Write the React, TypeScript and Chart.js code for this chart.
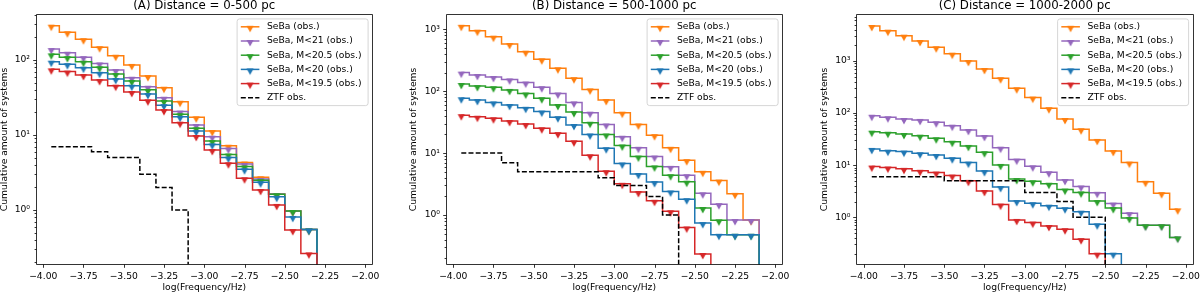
import React, { useEffect, useRef } from 'react';
import { Chart, registerables } from 'chart.js';

Chart.register(...registerables);

// ---------- data ----------
const binCenters = [-3.95, -3.85, -3.75, -3.65, -3.55, -3.45, -3.35, -3.25, -3.15, -3.05, -2.95, -2.85, -2.75, -2.65, -2.55, -2.45, -2.35, -2.25, -2.15, -2.05];
const xTickValues = [-4.0, -3.75, -3.5, -3.25, -3.0, -2.75, -2.5, -2.25, -2.0];

const seriesLabels = ['SeBa (obs.)', 'SeBa, M<21 (obs.)', 'SeBa, M<20.5 (obs.)', 'SeBa, M<20 (obs.)', 'SeBa, M<19.5 (obs.)', 'ZTF obs.'];
const seriesColors = ['#ff7f0e', '#9467bd', '#2ca02c', '#1f77b4', '#d62728', '#000000'];
const panelTitles = ['(A) Distance = 0-500 pc', '(B) Distance = 500-1000 pc', '(C) Distance = 1000-2000 pc'];
const xAxisTitle = 'log(Frequency/Hz)';
const yAxisTitle = 'Cumulative amount of systems';

// Panel A: 0-500 pc
const sebaA = [287, 234, 189, 148, 114, 86, 61, 42.7, 27.8, 17.2, 11.3, 7.2, 4.3, 2.73, 1.63, 0.97, 0.55, 0, 0, 0];
const m21A = [140, 125, 109, 90, 73.5, 58, 44, 31.4, 20.5, 13.6, 9.5, 6.6, 4.1, 2.6, 1.63, 0.97, 0.55, 0, 0, 0];
const m205A = [119, 109, 95, 80, 65, 52.5, 40, 28.5, 18.9, 12.3, 8.3, 5.5, 3.8, 2.5, 1.62, 0.97, 0.55, 0, 0, 0];
const m20A = [95, 88, 79, 67.5, 55.8, 45.5, 35.2, 25, 17.5, 11.3, 7.5, 5.0, 3.5, 2.34, 1.5, 0.81, 0.55, 0, 0, 0];
const m195A = [75, 70, 63, 54, 45.5, 37.5, 29, 21.5, 14.6, 9.7, 6.3, 4.2, 2.65, 1.85, 1.17, 0.54, 0.264, 0, 0, 0];
const ztfA = [7, 7, 7, 6, 5, 5, 3, 2, 1, 0, 0, 0, 0, 0, 0, 0, 0, 0, 0, 0];

// Panel B: 500-1000 pc
const sebaB = [1140, 950, 760, 580, 435, 327, 234, 162, 107, 72, 45, 29, 19.5, 12.2, 7.7, 5.0, 3.6, 2.2, 0.83, 0];
const m21B = [200, 183, 170, 155, 138, 116, 92, 66, 45, 29, 18.4, 12.2, 8.8, 6.0, 4.4, 2.24, 1.5, 0.83, 0.83, 0];
const m205B = [131, 121, 116, 105, 92, 77, 60, 46, 31, 20, 13.3, 8.8, 6.1, 4.4, 3.45, 1.3, 0.82, 0.48, 0.48, 0];
const m20B = [77, 72, 66, 60, 54, 47, 38, 28.5, 20, 12, 6.8, 4.6, 3.4, 2.4, 1.8, 0.74, 0.48, 0.48, 0.48, 0];
const m195B = [41, 38.7, 36.5, 33, 29.5, 25.2, 21, 15.5, 9.2, 5.1, 3.2, 2.35, 1.7, 1.15, 0.63, 0.235, 0, 0, 0, 0];
const ztfB = [10, 10, 10, 7, 5, 5, 5, 5, 5, 4, 3, 3, 2, 1, 0, 0, 0, 0, 0, 0];

// Panel C: 1000-2000 pc
const sebaC = [4700, 3820, 3060, 2420, 1830, 1380, 1000, 702, 466, 299, 198, 124, 77, 48.8, 30.5, 18.7, 11.2, 4.8, 2.9, 1.42];
const m21C = [89, 83, 77, 74, 66.6, 57.3, 47.4, 36.3, 21.7, 12.8, 9.5, 7.3, 5.2, 3.9, 2.95, 1.83, 1.2, 0.7, 0.7, 0.41];
const m205C = [44, 42, 39.7, 36.8, 32.8, 28.2, 23.4, 17.7, 10.1, 5.4, 4.9, 4.4, 3.4, 3.0, 2.05, 1.5, 0.97, 0.7, 0.7, 0.41];
const m20C = [20.5, 19, 18.2, 16.9, 15.7, 13.6, 11.2, 7.7, 3.8, 2.05, 1.86, 1.67, 1.49, 1.28, 0.73, 0.2, 0, 0, 0, 0];
const m195C = [9.4, 9.0, 8.5, 7.8, 7.2, 6.3, 5.0, 3.2, 1.75, 0.89, 0.79, 0.68, 0.59, 0.38, 0.2, 0, 0, 0, 0, 0];
const ztfC = [6, 6, 6, 6, 6, 5, 5, 5, 5, 5, 3, 3, 2, 1, 1, 0, 0, 0, 0, 0];

// ---------- layout ----------
const FONT = 'DejaVu Sans';
const TICK_SIZE = 9.2;
const TITLE_SIZE = 11.8;
const H = 294;
const AXES_TOP = 14.5;
const AXES_BOTTOM = 264.3;
const X_MIN = -4.045;
const X_MAX = -1.955;
const LINE_W = 1.5;

const panels = [
  { title: panelTitles[0], series: [sebaA, m21A, m205A, m20A, m195A, ztfA], left: 0, width: 400, axesLeft: 36, padRight: 27.5, yMin: 0.189, yMax: 404, yTitlePad: 0 },
  { title: panelTitles[1], series: [sebaB, m21B, m205B, m20B, m195B, ztfB], left: 400, width: 410, axesLeft: 46, padRight: 27.5, yMin: 0.16, yMax: 1734, yTitlePad: 8.9 },
  { title: panelTitles[2], series: [sebaC, m21C, m205C, m20C, m195C, ztfC], left: 810, width: 390, axesLeft: 46.5, padRight: 7, yMin: 0.125, yMax: 7800, yTitlePad: 9.6 },
];

const SUP: Record<string, string> = { '-1': '\u207B\u00B9', '0': '\u2070', '1': '\u00B9', '2': '\u00B2', '3': '\u00B3', '4': '\u2074' };

const markerCache: Record<string, HTMLCanvasElement> = {};
function markerFor(color: string): HTMLCanvasElement {
  if (markerCache[color]) return markerCache[color];
  const c = document.createElement('canvas');
  c.width = 10;
  c.height = 14;
  const g = c.getContext('2d')!;
  g.fillStyle = color;
  g.beginPath();
  g.moveTo(1.4, 6.1);
  g.lineTo(8.6, 6.1);
  g.lineTo(5, 12.4);
  g.closePath();
  g.fill();
  markerCache[color] = c;
  return c;
}

const axesDecor = {
  id: 'axesDecor',
  afterDatasetsDraw(chart: any) {
    const { ctx, chartArea: a } = chart;
    const xs = chart.scales.x;
    const ys = chart.scales.y;
    const L = Math.floor(a.left) + 0.5;
    const R = Math.floor(a.right) + 0.5;
    const T = Math.floor(a.top) + 0.5;
    const B = Math.floor(a.bottom) + 0.5;
    ctx.save();
    ctx.strokeStyle = '#000';
    ctx.lineWidth = 0.8;
    ctx.beginPath();
    ctx.rect(L, T, R - L, B - T);
    for (const t of xs.ticks) {
      const px = Math.round(xs.getPixelForValue(t.value)) + 0.5;
      ctx.moveTo(px, B);
      ctx.lineTo(px, B + 3.3);
    }
    for (const t of ys.ticks) {
      const py = Math.round(ys.getPixelForValue(t.value)) + 0.5;
      const len = t.major ? 3.3 : 1.9;
      ctx.moveTo(L, py);
      ctx.lineTo(L - len, py);
    }
    ctx.stroke();
    ctx.restore();
  },
};

const legendBox = {
  id: 'legendBox',
  afterDatasetsDraw(chart: any) {
    const { ctx, chartArea: a } = chart;
    const w = 131;
    const h = 86.7;
    const right = a.right - 4.4;
    const left = right - w;
    const top = a.top + 4.4;
    ctx.save();
    ctx.fillStyle = 'rgba(255,255,255,0.8)';
    ctx.strokeStyle = '#cccccc';
    ctx.lineWidth = 0.8;
    ctx.beginPath();
    (ctx as any).roundRect(left, top, w, h, 2.5);
    ctx.fill();
    ctx.stroke();
    ctx.font = `${TICK_SIZE}px "${FONT}"`;
    ctx.textBaseline = 'middle';
    ctx.textAlign = 'left';
    seriesLabels.forEach((label, i) => {
      const y = top + 7.9 + i * 14.2;
      const x0 = left + 3.7;
      const x1 = left + 22.3;
      ctx.strokeStyle = seriesColors[i];
      ctx.lineWidth = LINE_W;
      ctx.setLineDash(i === 5 ? [5, 2.2] : []);
      ctx.beginPath();
      ctx.moveTo(x0, y);
      ctx.lineTo(x1, y);
      ctx.stroke();
      ctx.setLineDash([]);
      if (i < 5) {
        const m = markerFor(seriesColors[i]);
        ctx.drawImage(m, (x0 + x1) / 2 - m.width / 2, y - m.height / 2);
      }
      ctx.fillStyle = '#000';
      ctx.fillText(label, left + 29.9, y);
    });
    ctx.restore();
  },
};

function Panel({ cfg }: { cfg: any }) {
  const ref = useRef<HTMLCanvasElement>(null);
  useEffect(() => {
    const datasets = cfg.series.map((vals: number[], i: number) => ({
      label: seriesLabels[i],
      data: binCenters.map((x, j) => ({ x, y: vals[j] > 0 ? vals[j] : 1e-3 })),
      borderColor: seriesColors[i],
      backgroundColor: seriesColors[i],
      borderWidth: LINE_W,
      borderDash: i === 5 ? [5, 2.2] : [],
      stepped: 'middle',
      fill: false,
      pointStyle: i === 5 ? 'circle' : markerFor(seriesColors[i]),
      pointRadius: vals.map((v) => (i < 5 && v > 0 ? 3 : 0)),
      pointHoverRadius: 0,
      order: 6 - i,
    }));
    const chart = new Chart(ref.current!, {
      type: 'line',
      data: { datasets },
      plugins: [axesDecor, legendBox],
      options: {
        animation: false,
        responsive: false,
        maintainAspectRatio: false,
        devicePixelRatio: 1,
        events: [],
        layout: { padding: { left: 0, right: cfg.padRight, top: 0, bottom: 0 } },
        plugins: {
          legend: { display: false },
          tooltip: { enabled: false },
          title: {
            display: true,
            text: cfg.title,
            fullSize: false,
            color: '#000',
            font: { family: FONT, size: TITLE_SIZE, weight: 'normal', lineHeight: 1 },
            padding: { top: 0, bottom: AXES_TOP - TITLE_SIZE },
          },
        },
        scales: {
          x: {
            type: 'linear',
            min: X_MIN,
            max: X_MAX,
            bounds: 'data',
            grid: { display: false, drawTicks: false },
            border: { display: false },
            ticks: {
              autoSkip: false,
              maxRotation: 0,
              padding: 7,
              color: '#000',
              font: { family: FONT, size: TICK_SIZE },
              callback: (v: any) => (v < 0 ? '\u2212' : '') + Math.abs(Number(v)).toFixed(2),
            },
            afterBuildTicks: (scale: any) => {
              scale.ticks = xTickValues.map((v) => ({ value: v }));
            },
            afterFit: (scale: any) => {
              scale.height = H - AXES_BOTTOM;
              scale.paddingLeft = 0;
              scale.paddingRight = 0;
            },
            title: {
              display: true,
              text: xAxisTitle,
              color: '#000',
              font: { family: FONT, size: TICK_SIZE, lineHeight: 1 },
              padding: { top: 0, bottom: 1.85 },
            },
          },
          y: {
            type: 'logarithmic',
            min: cfg.yMin,
            max: cfg.yMax,
            bounds: 'data',
            grid: { display: false, drawTicks: false },
            border: { display: false },
            ticks: {
              autoSkip: false,
              padding: 6,
              color: '#000',
              font: { family: FONT, size: TICK_SIZE },
              callback: (v: any) => {
                const e = Math.round(Math.log10(v));
                const p = Math.pow(10, e);
                return Math.abs(v - p) < 1e-9 * p ? '10' + (SUP[String(e)] || '') : '';
              },
            },
            afterBuildTicks: (scale: any) => {
              const ticks: any[] = [];
              for (let e = -2; e <= 4; e++) {
                for (let m = 1; m <= 9; m++) {
                  const v = m * Math.pow(10, e);
                  if (v >= cfg.yMin * 0.9999 && v <= cfg.yMax * 1.0001) ticks.push({ value: v, major: m === 1 });
                }
              }
              scale.ticks = ticks;
            },
            afterFit: (scale: any) => {
              scale.width = cfg.axesLeft;
              scale.paddingTop = 0;
              scale.paddingBottom = 0;
            },
            title: {
              display: true,
              text: yAxisTitle,
              color: '#000',
              font: { family: FONT, size: TICK_SIZE, lineHeight: 1 },
              padding: { top: cfg.yTitlePad, bottom: 0 },
            },
          },
        },
      } as any,
    });
    return () => chart.destroy();
  }, []);
  return (
    <canvas
      ref={ref}
      width={cfg.width}
      height={H}
      style={{ position: 'absolute', left: cfg.left, top: 0, width: cfg.width, height: H }}
    />
  );
}

export default function App() {
  return (
    <div style={{ position: 'fixed', left: 0, top: 0, width: 1200, height: H, background: '#fff', overflow: 'hidden' }}>
      {panels.map((p, i) => (
        <Panel key={i} cfg={p} />
      ))}
    </div>
  );
}
